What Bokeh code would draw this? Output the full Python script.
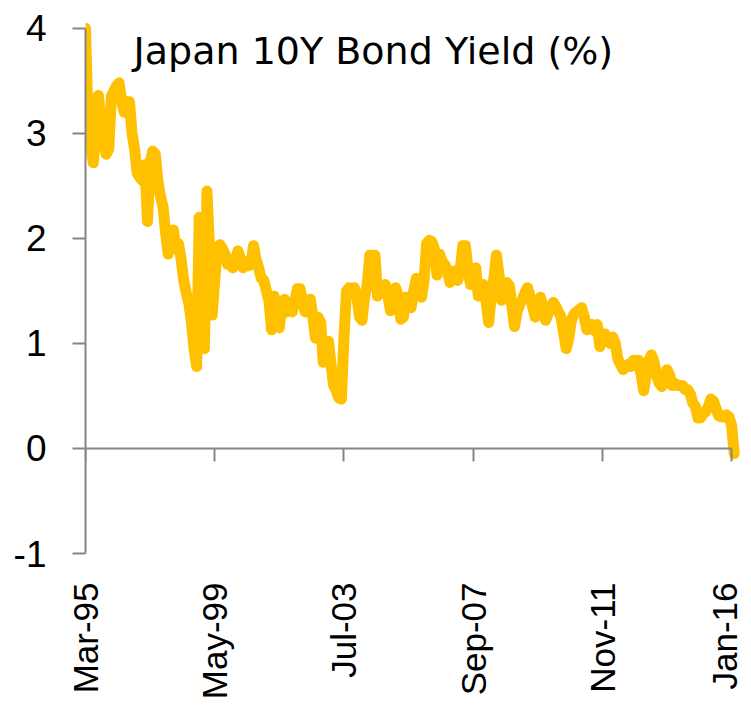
import math
import pandas as pd
from bokeh.plotting import figure
from bokeh.models import LinearAxis, FixedTicker, Range1d, Label, ColumnDataSource
from bokeh.embed import file_html
from bokeh.resources import INLINE

# ---------------- data ----------------
title_text = "Japan 10Y Bond Yield (%)"
first_month = "1995-03-01"

# monthly 10Y JGB yield (%), Mar-95 .. Feb-16
yields = [
    4.00, 3.10, 2.90, 2.72, 3.00, 3.36, 3.10, 2.90, 2.80, 2.85, 3.35, 3.40,
    3.45, 3.48, 3.30, 3.20, 3.30, 3.30, 3.00, 2.85, 2.62, 2.58, 2.55, 2.70,
    2.16, 2.72, 2.83, 2.80, 2.55, 2.40, 2.30, 2.05, 1.85, 2.00, 2.08, 1.90,
    1.95, 1.80, 1.60, 1.48, 1.38, 1.20, 0.95, 0.78, 2.20, 1.00, 0.95, 2.45,
    1.90, 1.27, 1.60, 1.90, 1.94, 1.90, 1.85, 1.75, 1.80, 1.72, 1.80, 1.88,
    1.80, 1.72, 1.78, 1.74, 1.75, 1.93, 1.80, 1.72, 1.62, 1.60, 1.50, 1.40,
    1.13, 1.45, 1.30, 1.15, 1.38, 1.42, 1.30, 1.35, 1.30, 1.40, 1.52, 1.52,
    1.40, 1.30, 1.40, 1.42, 1.25, 1.05, 1.25, 1.20, 0.82, 0.95, 1.02, 0.80,
    0.60, 0.55, 0.48, 0.47, 1.05, 1.50, 1.53, 1.50, 1.53, 1.45, 1.25, 1.22,
    1.45, 1.55, 1.84, 1.84, 1.84, 1.45, 1.50, 1.48, 1.56, 1.45, 1.31, 1.40,
    1.53, 1.45, 1.23, 1.25, 1.44, 1.40, 1.34, 1.50, 1.62, 1.55, 1.44, 1.60,
    1.95, 1.98, 1.97, 1.90, 1.65, 1.85, 1.78, 1.75, 1.70, 1.58, 1.65, 1.69,
    1.60, 1.70, 1.93, 1.93, 1.70, 1.56, 1.60, 1.72, 1.45, 1.55, 1.56, 1.40,
    1.20, 1.45, 1.62, 1.84, 1.65, 1.41, 1.50, 1.58, 1.55, 1.35, 1.16, 1.30,
    1.37, 1.42, 1.48, 1.53, 1.45, 1.35, 1.25, 1.30, 1.44, 1.35, 1.22, 1.28,
    1.35, 1.39, 1.35, 1.30, 1.25, 1.10, 0.95, 1.05, 1.22, 1.28, 1.30, 1.32,
    1.34, 1.25, 1.13, 1.15, 1.18, 1.12, 1.18, 0.97, 1.05, 1.09, 1.02, 1.00,
    1.06, 1.00, 0.85, 0.80, 0.75, 0.78, 0.80, 0.78, 0.84, 0.80, 0.84, 0.70,
    0.55, 0.70, 0.84, 0.89, 0.82, 0.69, 0.62, 0.59, 0.68, 0.75, 0.70, 0.60,
    0.62, 0.60, 0.60, 0.60, 0.56, 0.56, 0.52, 0.43, 0.40, 0.29, 0.29, 0.33,
    0.35, 0.40, 0.47, 0.45, 0.38, 0.31, 0.30, 0.30, 0.32, 0.30, 0.22, -0.05,
]

x_tick_labels = ["Mar-95", "May-99", "Jul-03", "Sep-07", "Nov-11", "Jan-16"]
y_ticks = [-1, 0, 1, 2, 3, 4]
y_tick_labels = ["-1", "0", "1", "2", "3", "4"]

# ---------------- derived ----------------
months = pd.date_range(first_month, periods=len(yields), freq="MS")
month_labels = [d.strftime("%b-%y") for d in months]
idx = list(range(len(yields)))
x_ticks = [month_labels.index(lbl) for lbl in x_tick_labels]

source = ColumnDataSource(dict(x=idx, y=yields, month=month_labels))

AXIS_COLOR = "#868686"
TICK_FONT = "Liberation Sans"

p = figure(
    width=743, height=702,
    output_backend="svg", toolbar_location=None,
    x_range=Range1d(0, 254.6), y_range=Range1d(-1, 4.188),
    x_axis_type=None, y_axis_type=None,
    min_border_left=85, min_border_right=0,
    min_border_top=8, min_border_bottom=142,
)
p.outline_line_color = None
p.background_fill_color = "white"
p.border_fill_color = "white"

# left (value) axis
yaxis = LinearAxis(
    ticker=FixedTicker(ticks=y_ticks),
    bounds=(y_ticks[0], y_ticks[-1]),
    major_label_overrides={t: l for t, l in zip(y_ticks, y_tick_labels)},
    axis_line_color=AXIS_COLOR, axis_line_width=2,
    major_tick_line_color=AXIS_COLOR, major_tick_line_width=2,
    major_tick_in=0, major_tick_out=13,
    minor_tick_line_color=None,
    major_label_standoff=26,
    major_label_text_font=TICK_FONT,
    major_label_text_font_size="37px",
    major_label_text_color="black",
)
p.add_layout(yaxis, "left")

# category axis line + ticks crossing at zero (no labels)
xaxis_zero = LinearAxis(
    fixed_location=0,
    ticker=FixedTicker(ticks=x_ticks),
    bounds=(x_ticks[0], x_ticks[-1]),
    major_label_overrides={t: "" for t in x_ticks},
    axis_line_color=AXIS_COLOR, axis_line_width=2,
    major_tick_line_color=AXIS_COLOR, major_tick_line_width=2,
    major_tick_in=0, major_tick_out=13,
    minor_tick_line_color=None,
)
p.add_layout(xaxis_zero, "below")

# category labels at the bottom, reading upwards
xaxis_lbl = LinearAxis(
    ticker=FixedTicker(ticks=x_ticks),
    major_label_overrides={t: l for t, l in zip(x_ticks, x_tick_labels)},
    major_label_orientation=math.pi / 2,
    axis_line_color=None,
    major_tick_line_color=None, major_tick_in=0, major_tick_out=0,
    minor_tick_line_color=None,
    major_label_standoff=29,
    major_label_text_font=TICK_FONT,
    major_label_text_font_size="35px",
    major_label_text_color="black",
)
p.add_layout(xaxis_lbl, "below")

p.line("x", "y", source=source, line_color="#FFC000", line_width=11,
       line_join="round", line_cap="round")

title = Label(
    x=18.6, y=3.784, text=title_text,
    text_font="DejaVu Sans", text_font_size="38px", text_color="black",
    text_align="left", text_baseline="alphabetic",
)
p.add_layout(title)

open("out.html", "w").write(file_html(p, INLINE))
